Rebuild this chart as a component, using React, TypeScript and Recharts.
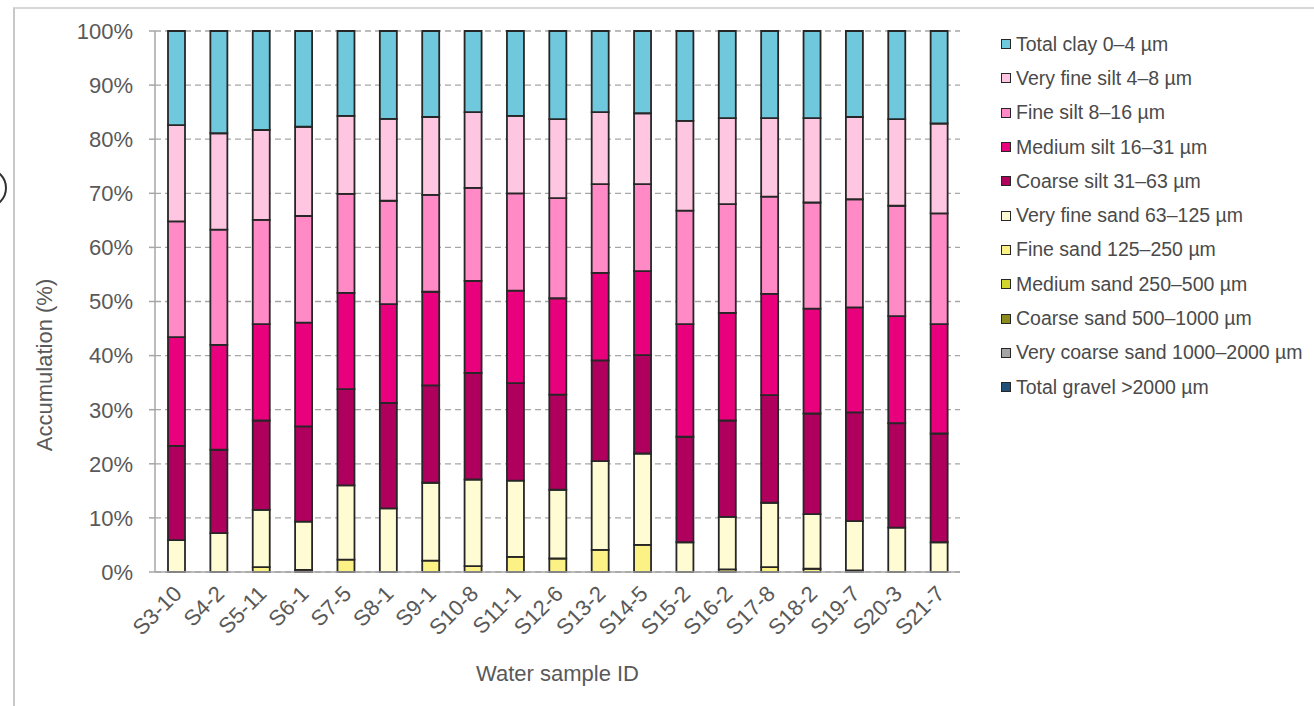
import { BarChart, Bar, XAxis, YAxis, CartesianGrid, Legend, Label } from "recharts";

const categories = [
  "S3-10", "S4-2", "S5-11", "S6-1", "S7-5", "S8-1", "S9-1", "S10-8", "S11-1", "S12-6",
  "S13-2", "S14-5", "S15-2", "S16-2", "S17-8", "S18-2", "S19-7", "S20-3", "S21-7",
];

// percentages per sample, bottom of the stack first
const totalGravel = [0, 0, 0, 0, 0, 0, 0, 0, 0, 0, 0, 0, 0, 0, 0, 0, 0, 0, 0];
const veryCoarseSand = [0, 0, 0, 0, 0, 0, 0, 0, 0, 0, 0, 0, 0, 0, 0, 0, 0, 0, 0];
const coarseSand = [0, 0, 0, 0, 0, 0, 0, 0, 0, 0, 0, 0, 0, 0, 0, 0, 0, 0, 0];
const mediumSand = [0, 0, 0, 0, 0, 0, 0, 0, 0, 0, 0, 0, 0, 0, 0, 0, 0, 0, 0];
const fineSand = [0, 0, 0.9, 0.4, 2.3, 0, 2.1, 1.1, 2.8, 2.5, 4.1, 5.0, 0, 0.5, 0.9, 0.6, 0.3, 0, 0];
const veryFineSand = [5.9, 7.2, 10.6, 8.9, 13.7, 11.8, 14.4, 16.0, 14.1, 12.7, 16.4, 16.9, 5.5, 9.7, 11.9, 10.1, 9.1, 8.2, 5.5];
const coarseSilt = [17.4, 15.4, 16.5, 17.6, 17.8, 19.6, 18.0, 19.7, 18.0, 17.6, 18.6, 18.2, 19.5, 17.8, 19.9, 18.6, 20.1, 19.3, 20.1];
const mediumSilt = [20.1, 19.4, 17.8, 19.2, 17.8, 18.3, 17.3, 17.0, 17.1, 17.8, 16.2, 15.5, 20.8, 19.9, 18.7, 19.4, 19.4, 19.8, 20.2];
const fineSilt = [21.4, 21.3, 19.3, 19.7, 18.3, 19.2, 17.9, 17.2, 18.0, 18.5, 16.4, 16.1, 21.0, 20.1, 18.0, 19.6, 20.0, 20.4, 20.5];
const veryFineSilt = [17.8, 17.8, 16.6, 16.5, 14.4, 15.2, 14.4, 14.0, 14.3, 14.6, 13.3, 13.1, 16.6, 15.9, 14.5, 15.6, 15.2, 16.0, 16.6];
const totalClay = [17.4, 18.9, 18.3, 17.7, 15.7, 16.3, 15.9, 15.0, 15.7, 16.3, 15.0, 15.2, 16.6, 16.1, 16.1, 16.1, 15.9, 16.3, 17.1];

const yTicks = [0, 0.1, 0.2, 0.3, 0.4, 0.5, 0.6, 0.7, 0.8, 0.9, 1];

const series = [
  { key: "gravel", name: "Total gravel >2000 µm", color: "#1F4E79", values: totalGravel },
  { key: "vcsand", name: "Very coarse sand 1000–2000 µm", color: "#A5A5A5", values: veryCoarseSand },
  { key: "csand", name: "Coarse sand 500–1000 µm", color: "#8C8C1E", values: coarseSand },
  { key: "msand", name: "Medium sand 250–500 µm", color: "#D2D62C", values: mediumSand },
  { key: "fsand", name: "Fine sand 125–250 µm", color: "#FBF184", values: fineSand },
  { key: "vfsand", name: "Very fine sand 63–125 µm", color: "#FFFBD2", values: veryFineSand },
  { key: "csilt", name: "Coarse silt 31–63 µm", color: "#B0005E", values: coarseSilt },
  { key: "msilt", name: "Medium silt 16–31 µm", color: "#E8007D", values: mediumSilt },
  { key: "fsilt", name: "Fine silt 8–16 µm", color: "#FF8AC6", values: fineSilt },
  { key: "vfsilt", name: "Very fine silt 4–8 µm", color: "#FFC6E1", values: veryFineSilt },
  { key: "clay", name: "Total clay 0–4 µm", color: "#70C8DC", values: totalClay },
];

const data = categories.map((name, i) => {
  const row: Record<string, string | number> = { name };
  series.forEach((s) => {
    row[s.key] = s.values[i];
  });
  return row;
});

const FONT = "'Liberation Sans', Arial, sans-serif";
const TEXT = "#595959";
const AXIS = "#a6a6a6";

const XTick = ({ x, y, payload }: any) => {
  const ax = x + 7;
  const ay = y + 14;
  return (
    <text
      x={ax}
      y={ay}
      transform={`rotate(-45 ${ax} ${ay})`}
      textAnchor="end"
      fontSize={22}
      fontFamily={FONT}
      fill={TEXT}
    >
      {payload.value}
    </text>
  );
};

const LegendBox = () => (
  <div style={{ fontFamily: FONT, fontSize: 19.5, color: "#4a4a4a" }}>
    {[...series].reverse().map((s) => (
      <div
        key={s.key}
        style={{ height: 34.3, display: "flex", alignItems: "center", whiteSpace: "nowrap" }}
      >
        <span
          style={{
            display: "inline-block",
            width: 8,
            height: 8,
            background: s.color,
            border: "1.5px solid #262626",
            marginRight: 5,
          }}
        />
        {s.name}
      </div>
    ))}
  </div>
);

export default function App() {
  return (
    <div style={{ position: "absolute", left: 0, top: 0, width: 1314, height: 706, background: "#fff", overflow: "hidden" }}>
      <div
        style={{
          position: "absolute",
          left: 13,
          top: 7,
          width: 1400,
          height: 800,
          borderLeft: "2px solid #c8c8c8",
          borderTop: "2px solid #d8d8d8",
        }}
      />
      <svg style={{ position: "absolute", left: 0, top: 0 }} width={20} height={240}>
        <circle cx={-13} cy={188} r={19} fill="none" stroke="#333" strokeWidth={2} />
      </svg>
      <BarChart
        width={1314}
        height={706}
        data={data}
        stackOffset="expand"
        margin={{ top: 31, right: 354, bottom: 132, left: 75 }}
        style={{ position: "absolute", left: 0, top: 0 }}
      >
        <CartesianGrid vertical={false} stroke={AXIS} strokeDasharray="6 4" strokeWidth={1.3} />
        <XAxis
          xAxisId="bounds"
          type="number"
          domain={[0, categories.length]}
          ticks={[...categories.map((_, i) => i), categories.length]}
          height={1}
          tick={false}
          tickSize={6}
          stroke={AXIS}
          strokeWidth={1.5}
        />
        <XAxis
          xAxisId="cat"
          dataKey="name"
          height={1}
          axisLine={false}
          tickLine={false}
          interval={0}
          tick={<XTick />}
        >
          <Label
            content={({ viewBox }: any) => (
              <text
                x={viewBox.x + viewBox.width / 2}
                y={viewBox.y + 108}
                textAnchor="middle"
                fontSize={22}
                fontFamily={FONT}
                fill={TEXT}
              >
                Water sample ID
              </text>
            )}
          />
        </XAxis>
        <YAxis
          width={80}
          domain={[0, 1]}
          ticks={yTicks}
          tickFormatter={(v: number) => `${Math.round(v * 100)}%`}
          tickSize={6}
          tickMargin={16}
          stroke={AXIS}
          strokeWidth={1.5}
          tick={{ fontSize: 22, fontFamily: FONT, fill: TEXT }}
        >
          <Label
            content={() => (
              <text
                x={52}
                y={365}
                transform="rotate(-90 52 365)"
                textAnchor="middle"
                fontSize={22}
                fontFamily={FONT}
                fill={TEXT}
              >
                Accumulation (%)
              </text>
            )}
          />
        </YAxis>
        {series.map((s) => (
          <Bar
            key={s.key}
            xAxisId="cat"
            dataKey={s.key}
            name={s.name}
            stackId="a"
            fill={s.color}
            stroke="#262626"
            strokeWidth={1.8}
            barSize={17}
            isAnimationActive={false}
          />
        ))}
        <Legend
          layout="vertical"
          align="center"
          verticalAlign="middle"
          content={<LegendBox />}
          wrapperStyle={{ position: "absolute", left: 1001, top: 27, width: 320, height: 380 }}
        />
      </BarChart>
    </div>
  );
}
